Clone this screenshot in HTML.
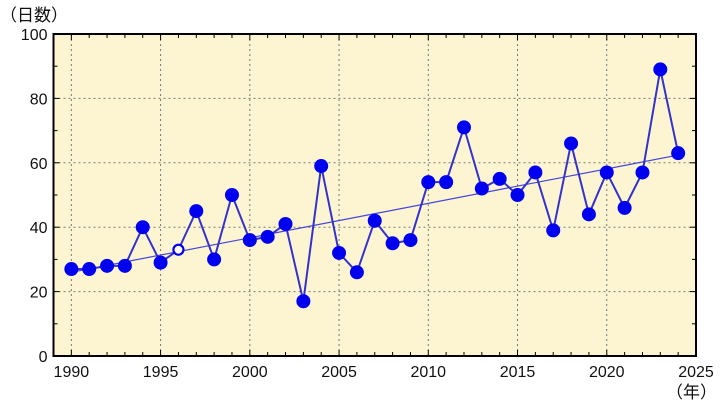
<!DOCTYPE html>
<html><head><meta charset="utf-8"><style>
html,body{margin:0;padding:0;background:#fff;width:720px;height:405px;overflow:hidden}
text{font-family:"Liberation Sans","Noto Sans CJK JP",sans-serif;font-size:16px;fill:#111}
</style></head><body>
<svg id="s" width="720" height="405" xmlns="http://www.w3.org/2000/svg"></svg>
<script>
var d=[27,27,28,28,40,29,33,45,30,50,36,37,41,17,59,32,26,42,35,36,54,54,71,52,55,50,57,39,66,44,57,46,57,89,63];
var L=53.5,R=696,T=34,B=356;
function X(y){return L+(y-1989)*(R-L)/36}
function Y(v){return B-v*(B-T)/100}
var h='<rect x="'+L+'" y="'+T+'" width="'+(R-L)+'" height="'+(B-T)+'" fill="#fdf5d2"/>';
for(var y=1990;y<=2020;y+=5)h+='<line x1="'+X(y)+'" y1="'+T+'" x2="'+X(y)+'" y2="'+B+'" stroke="#777" stroke-dasharray="2,3" stroke-width="1"/>';
for(var v=20;v<100;v+=20)h+='<line x1="'+L+'" y1="'+Y(v)+'" x2="'+R+'" y2="'+Y(v)+'" stroke="#777" stroke-dasharray="2,3" stroke-width="1"/>';
for(var y=1990;y<=2024;y++){var l=(y%5==0)?6:4;h+='<line x1="'+X(y)+'" y1="'+B+'" x2="'+X(y)+'" y2="'+(B-l)+'" stroke="#000"/><line x1="'+X(y)+'" y1="'+T+'" x2="'+X(y)+'" y2="'+(T+l)+'" stroke="#000"/>';}
for(var v=10;v<100;v+=10){var l=(v%20==0)?6:4;h+='<line x1="'+L+'" y1="'+Y(v)+'" x2="'+(L+l)+'" y2="'+Y(v)+'" stroke="#000"/><line x1="'+R+'" y1="'+Y(v)+'" x2="'+(R-l)+'" y2="'+Y(v)+'" stroke="#000"/>';}
h+='<rect x="'+L+'" y="'+T+'" width="'+(R-L)+'" height="'+(B-T)+'" fill="none" stroke="#000" stroke-width="2"/>';
h+='<line x1="'+X(1990)+'" y1="'+Y(26)+'" x2="'+X(2024)+'" y2="'+Y(62.4)+'" stroke="#4444dd" stroke-width="1.2"/>';
var p=d.map(function(v,i){return X(1990+i)+','+Y(v)}).join(' ');
h+='<polyline points="'+p+'" fill="none" stroke="#3333cc" stroke-width="2"/>';
d.forEach(function(v,i){if(i==6)h+='<circle cx="'+X(1996)+'" cy="'+Y(v)+'" r="5" fill="#fff" stroke="#0000ee" stroke-width="2.2"/>';else h+='<circle cx="'+X(1990+i)+'" cy="'+Y(v)+'" r="7" fill="#0000f0"/>';});
for(var v=0;v<=100;v+=20)h+='<text x="'+(L-6)+'" y="'+(Y(v)+6)+'" text-anchor="end">'+v+'</text>';
for(var y=1990;y<=2025;y+=5)h+='<text x="'+X(y)+'" y="377" text-anchor="middle">'+y+'</text>';
h+='<text x="0" y="21" style="font-size:17px">（日数）</text><text x="666" y="398" style="font-size:17px">（年）</text>';
document.getElementById('s').innerHTML=h;
</script>
</body></html>
